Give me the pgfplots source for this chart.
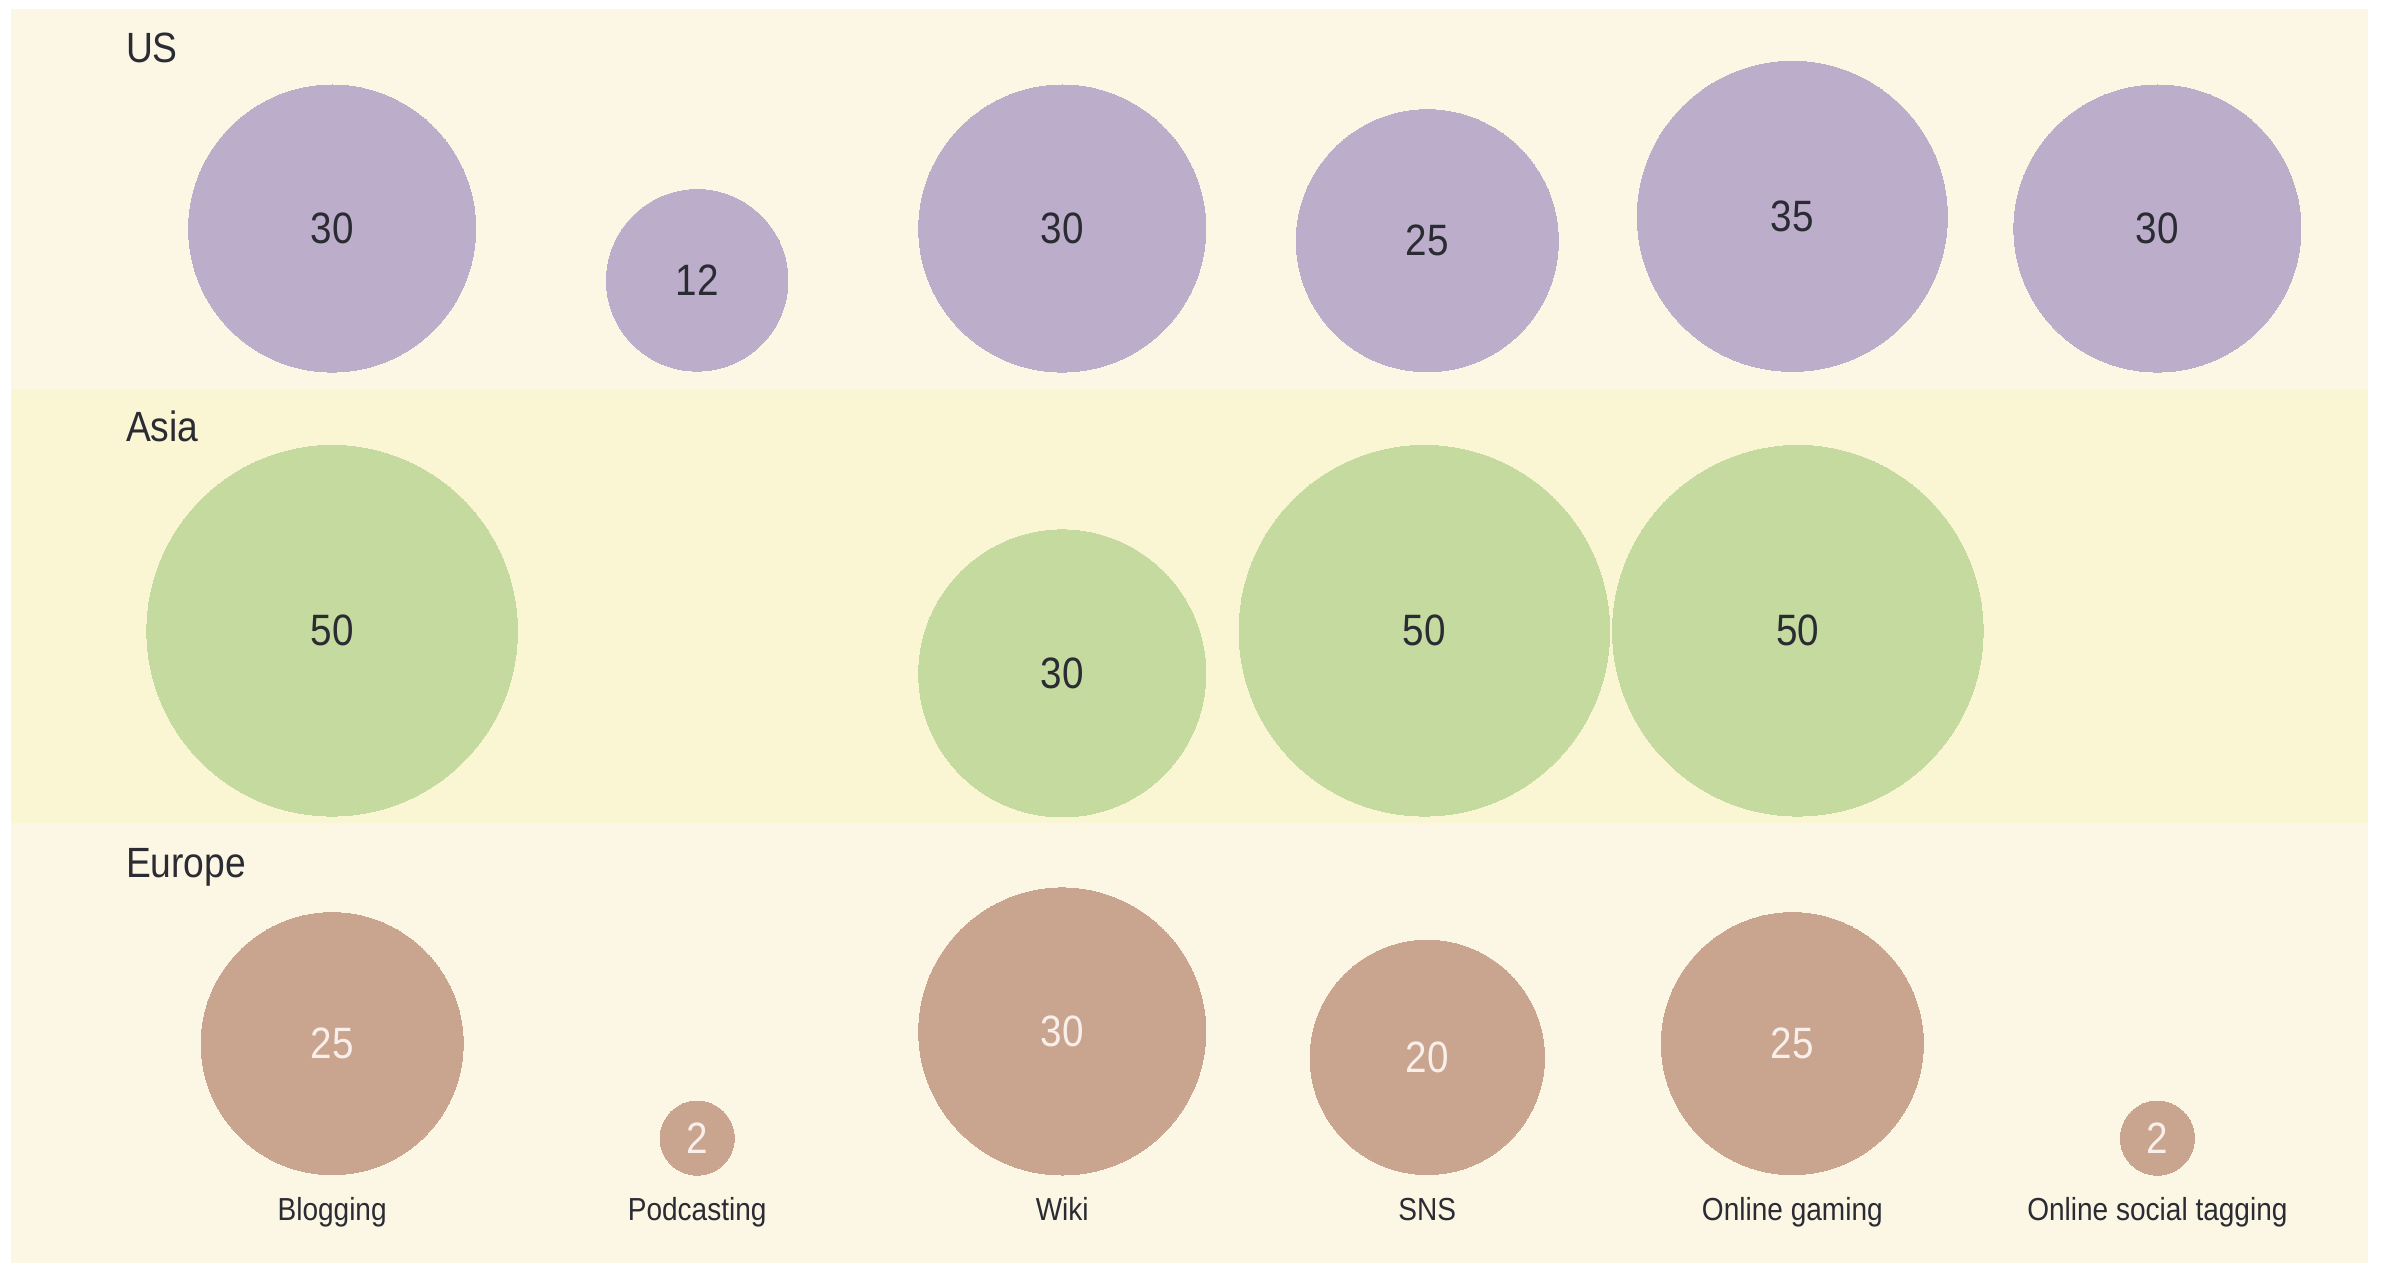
\documentclass[border=0pt]{standalone}
\usepackage{fontspec}
\setmainfont{Liberation Sans}[FakeStretch=0.88]
\usepackage{pgfplots}
\pgfplotsset{compat=1.18}
\usepackage{pgfplotstable}

\definecolor{bgcream}{HTML}{FBF7E4}
\definecolor{bgasia}{HTML}{FAF6D3}
\definecolor{uspurple}{HTML}{BCAECB}
\definecolor{asiagreen}{HTML}{C4DA9F}
\definecolor{eubrown}{HTML}{C9A48F}
\definecolor{darktxt}{HTML}{2B2B33}
\definecolor{lighttxt}{HTML}{F8EFEA}

% x = category index, y = bubble centre (picture units, downward), v = value
\pgfplotstableread{
x y v
0 150 30
1 184 12
2 150 30
3 158 25
4 142 35
5 150 30
}\us
\pgfplotstableread{
x y v
0 414 50
2 442 30
2.992 414 50
4.015 414 50
}\asia
\pgfplotstableread{
x y v
0 685 25
1 747 2
2 677 30
3 694 20
4 685 25
5 747 2
}\europe

\pgfplotsset{
  bubble/.style={
    scatter, only marks, mark=*,
    point meta=explicit,
    scatter/use mapped color={draw=#1, fill=#1, line width=0pt},
    mark options={draw=#1, fill=#1, line width=0pt},
    visualization depends on={4.894*sqrt(\thisrow{v}) \as \rad},
    scatter/@pre marker code/.append style={/tikz/mark size=\rad},
  },
  bubblelabel/.style={
    only marks, mark=*, mark size=0pt,
    mark options={draw=none, fill=none},
    point meta=explicit,
    nodes near coords,
    every node near coord/.append style={anchor=center, inner sep=0pt,
      font=\fontsize{8.2}{10}\selectfont, text=#1},
  },
}

\begin{document}
\begin{tikzpicture}
\begin{axis}[
  set layers,
  x=23.96mm, y=0.1mm, y dir=reverse,
  xmin=-0.90985, xmax=5.63439, ymin=0, ymax=830,
  axis lines=none, clip=false,
  /pgf/number format/assume math mode=true,
]
\begin{pgfonlayer}{axis background}
\fill[white] (axis cs:-0.90985,0) rectangle (axis cs:5.63439,830);
\fill[bgcream] (axis cs:-0.8806,6) rectangle (axis cs:5.5760,829);
\fill[bgasia] (axis cs:-0.8806,256) rectangle (axis cs:5.5760,540);
\end{pgfonlayer}

\addplot[bubble=uspurple] table[x=x, y=y, meta=v] {\us};
\addplot[bubble=asiagreen] table[x=x, y=y, meta=v] {\asia};
\addplot[bubble=eubrown] table[x=x, y=y, meta=v] {\europe};

\addplot[bubblelabel=darktxt] table[x=x, y=y, meta=v] {\us};
\addplot[bubblelabel=darktxt] table[x=x, y=y, meta=v] {\asia};
\addplot[bubblelabel=lighttxt] table[x=x, y=y, meta=v] {\europe};

\begin{scope}[font=\fontsize{7.9}{9.5}\selectfont, text=darktxt]
\node[anchor=base west, inner sep=0pt] at (axis cs:-0.5676,41) {US};
\node[anchor=base west, inner sep=0pt] at (axis cs:-0.5676,290) {Asia};
\node[anchor=base west, inner sep=0pt] at (axis cs:-0.5676,576) {Europe};
\end{scope}

\begin{scope}[font=\fontsize{5.95}{7}\selectfont, text=darktxt]
\node[anchor=base, inner sep=0pt] at (axis cs:0,801) {Blogging};
\node[anchor=base, inner sep=0pt] at (axis cs:1,801) {Podcasting};
\node[anchor=base, inner sep=0pt] at (axis cs:2,801) {Wiki};
\node[anchor=base, inner sep=0pt] at (axis cs:3,801) {SNS};
\node[anchor=base, inner sep=0pt] at (axis cs:4,801) {Online gaming};
\node[anchor=base, inner sep=0pt] at (axis cs:5,801) {Online social tagging};
\end{scope}
\end{axis}
\end{tikzpicture}
\end{document}
